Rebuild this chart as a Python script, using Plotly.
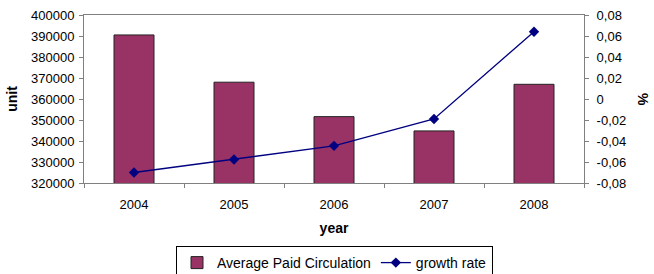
import plotly.graph_objects as go

years = ["2004", "2005", "2006", "2007", "2008"]
circulation = [390500, 368000, 351600, 344800, 367000]
growth_rate = [-0.070, -0.0576, -0.0446, -0.019, 0.064]

left_ticks = [320000, 330000, 340000, 350000, 360000, 370000, 380000, 390000, 400000]
right_tickvals = [-0.08, -0.06, -0.04, -0.02, 0, 0.02, 0.04, 0.06, 0.08]
right_ticktext = ["-0,08", "-0,06", "-0,04", "-0,02", "0", "0,02", "0,04", "0,06", "0,08"]

FONT = "Liberation Sans, Arial, sans-serif"
AXIS_GRAY = "#808080"

fig = go.Figure()
fig.add_trace(go.Bar(
    x=years, y=circulation, name="Average Paid Circulation",
    marker=dict(color="#993366", line=dict(color="#222222", width=1)),
    width=0.4,
))
fig.add_trace(go.Scatter(
    x=years, y=growth_rate, name="growth rate", yaxis="y2",
    mode="lines+markers",
    line=dict(color="#000080", width=1.3),
    marker=dict(symbol="diamond", size=8, color="#000080"),
))

fig.update_layout(
    width=654, height=274,
    margin=dict(l=84, r=70, t=15, b=91),
    paper_bgcolor="white", plot_bgcolor="white",
    font=dict(family=FONT, size=13, color="black"),
    showlegend=True,
    legend=dict(orientation="h", xref="container", yref="container",
                x=176/654, y=1 - 246/274, xanchor="left", yanchor="top",
                bordercolor="black", borderwidth=1, font=dict(size=14),
                itemwidth=30, tracegroupgap=0),
    xaxis=dict(
        type="category", showline=True, linecolor=AXIS_GRAY, linewidth=1, mirror=True,
        ticks="outside", ticklen=4, tickcolor=AXIS_GRAY, tickson="boundaries",
        ticklabelstandoff=9,
        showgrid=False, zeroline=False, automargin=False,
        title=dict(text="<b>year</b>", standoff=12, font=dict(size=14)),
    ),
    yaxis=dict(
        range=[320000, 400000], tickvals=left_ticks, tickformat="d",
        showline=True, linecolor=AXIS_GRAY, linewidth=1,
        ticks="outside", ticklen=4, tickcolor=AXIS_GRAY, ticklabelstandoff=2,
        showgrid=False, zeroline=False, automargin=False,
        title=dict(text="<b>unit</b>", standoff=10, font=dict(size=14)),
    ),
    yaxis2=dict(
        overlaying="y", side="right", range=[-0.08, 0.08],
        tickvals=right_tickvals, ticktext=right_ticktext,
        showline=True, linecolor=AXIS_GRAY, linewidth=1,
        ticks="outside", ticklen=4, tickcolor=AXIS_GRAY, ticklabelstandoff=5,
        showgrid=False, zeroline=False, automargin=False,
    ),
    annotations=[dict(text="<b>%</b>", xref="paper", yref="paper", x=1.118, y=0.5,
                      xanchor="center", yanchor="middle",
                      showarrow=False, textangle=90, font=dict(size=14))],
    bargap=0.6,
)

fig.write_html("out.html")
